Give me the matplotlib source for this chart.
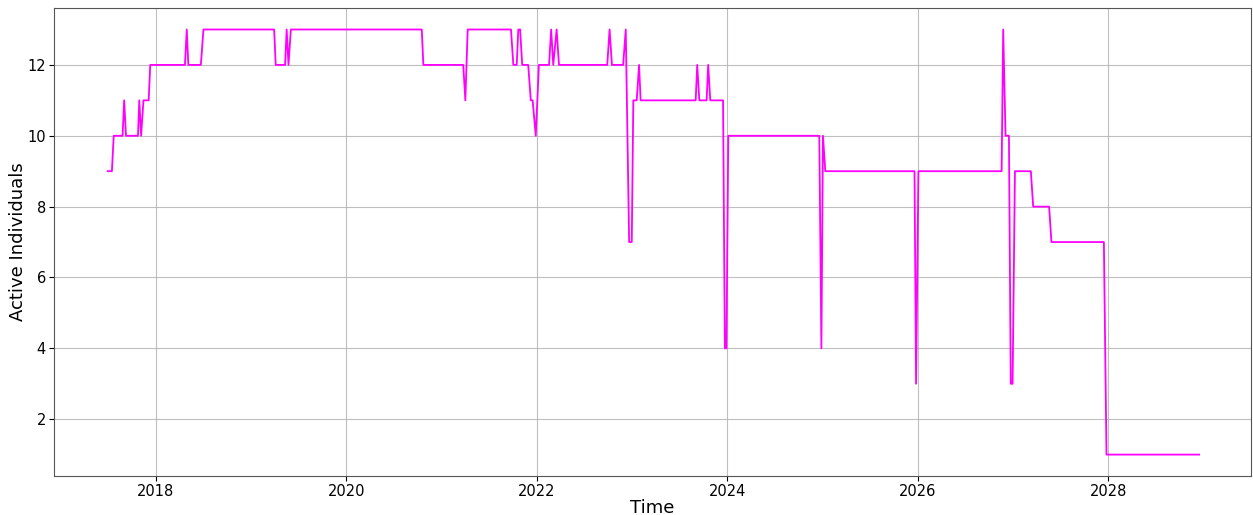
import matplotlib
matplotlib.use("Agg")
import matplotlib.pyplot as plt
import pandas as pd

# Vertices of the series (date, active individuals)
dates = [
    "2017-07-01", "2017-07-17", "2017-07-24", "2017-08-27", "2017-09-02", "2017-09-09",
    "2017-10-25", "2017-10-30", "2017-11-06", "2017-11-15", "2017-12-05", "2017-12-11",
    "2018-04-23", "2018-04-30", "2018-05-06", "2018-06-23", "2018-07-03",
    "2019-03-31", "2019-04-06", "2019-05-12", "2019-05-18", "2019-05-25", "2019-06-03",
    "2020-10-17", "2020-10-23",
    "2021-03-25", "2021-04-02", "2021-04-11", "2021-09-24", "2021-10-03", "2021-10-16",
    "2021-10-22", "2021-10-29", "2021-11-06", "2021-11-29", "2021-12-09", "2021-12-16",
    "2021-12-28",
    "2022-01-09", "2022-02-17", "2022-02-25", "2022-03-05", "2022-03-18", "2022-03-27",
    "2022-09-28", "2022-10-07", "2022-10-16", "2022-11-28", "2022-12-08", "2022-12-21",
    "2022-12-31",
    "2023-01-06", "2023-01-19", "2023-01-28", "2023-02-03", "2023-09-02", "2023-09-08",
    "2023-09-16", "2023-10-14", "2023-10-20", "2023-10-28", "2023-12-16", "2023-12-23",
    "2023-12-29",
    "2024-01-05", "2024-12-19", "2024-12-27",
    "2025-01-02", "2025-01-11", "2025-12-19", "2025-12-25",
    "2026-01-03", "2026-11-18", "2026-11-24", "2026-12-03", "2026-12-16", "2026-12-23",
    "2026-12-30",
    "2027-01-08", "2027-03-10", "2027-03-19", "2027-05-19", "2027-05-28", "2027-12-15",
    "2027-12-25",
    "2028-12-14",
]
active = [
    9, 9, 10, 10, 11, 10,
    10, 11, 10, 11, 11, 12,
    12, 13, 12, 12, 13,
    13, 12, 12, 13, 12, 13,
    13, 12,
    12, 11, 13, 13, 12, 12,
    13, 13, 12, 12, 11, 11,
    10,
    12, 12, 13, 12, 13, 12,
    12, 13, 12, 12, 13, 7,
    7,
    11, 11, 12, 11, 11, 12,
    11, 11, 12, 11, 11, 4,
    4,
    10, 10, 4,
    10, 9, 9, 3,
    9, 9, 13, 10, 10, 3,
    3,
    9, 9, 8, 8, 7, 7,
    1,
    1,
]

x = pd.to_datetime(dates)

fig = plt.figure(figsize=(12.53, 5.15), dpi=100)
ax = fig.add_axes([0.0433, 0.076, 0.9551, 0.908])
ax.plot(x, active, color="#ff00ff", linewidth=1.3)
ax.set_xlim(pd.Timestamp("2016-12-08"), pd.Timestamp("2029-07-01"))
ax.grid(True, color="#b0b0b0", linewidth=0.8, alpha=0.8)
ax.set_xlabel("Time", fontsize=13, labelpad=0)
ax.set_ylabel("Active Individuals", fontsize=13, labelpad=0)
ax.tick_params(labelsize=10.5, pad=2.5)
for s in ax.spines.values():
    s.set_color("#555555")
fig.savefig("out.png", dpi=100)
